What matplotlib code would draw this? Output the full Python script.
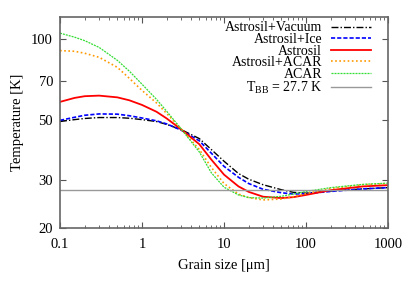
import matplotlib
matplotlib.use('Agg')
import matplotlib.pyplot as plt

plt.rcParams['font.family'] = ['Liberation Serif', 'DejaVu Serif']
plt.rcParams['mathtext.fontset'] = 'custom'
plt.rcParams['mathtext.rm'] = 'Liberation Serif'

# grain size [um]
size = [0.1, 0.15, 0.2, 0.3, 0.5, 0.7, 1, 1.5, 2, 3, 5, 7, 10, 15, 20, 30, 50, 70, 100, 200, 500, 1000]

# temperatures [K]
t_vacuum = [49.5, 50.3, 50.8, 51.2, 51.2, 50.9, 50.3, 49.5, 48.3, 46.2, 42.8, 39.0, 35.3, 31.8, 30.3, 28.9,
            27.7, 27.1, 26.9, 27.4, 27.9, 28.2]
t_ice = [50.0, 51.3, 52.2, 52.8, 52.7, 52.0, 51.0, 49.8, 48.5, 46.0, 42.0, 37.8, 33.8, 30.8, 29.2, 27.8,
         27.0, 26.7, 26.8, 27.3, 27.9, 28.2]
t_astrosil = [58.5, 60.5, 61.4, 61.7, 60.8, 59.3, 57.0, 53.8, 50.8, 46.3, 40.8, 35.8, 31.5, 28.5, 27.2, 26.1,
              25.8, 26.0, 26.5, 27.6, 28.5, 28.8]
t_astrosil_acar = [90.5, 90.0, 88.5, 85.5, 78.5, 71.5, 64.5, 58.0, 53.0, 46.5, 39.0, 33.5, 29.2, 26.7, 25.9,
                   25.4, 25.6, 26.1, 26.8, 28.0, 28.9, 29.2]
t_acar = [105, 101.5, 98.5, 93.0, 83.3, 76.0, 68.0, 59.8, 54.0, 46.5, 38.2, 32.0, 28.3, 26.5, 25.9, 25.8,
          26.2, 26.7, 27.3, 28.2, 29.0, 29.3]
t_bb = 27.7

fig = plt.figure(figsize=(4.15, 2.91), dpi=100)
ax = fig.add_axes([0.1446, 0.2165, 0.7904, 0.7235])

ax.plot(size, t_vacuum, color='black', ls=(0, (5, 1.5, 1, 1.5)), lw=1.0, label='Astrosil+Vacuum')
ax.plot(size, t_ice, color='blue', ls=(0, (2.5, 1.2)), lw=1.2, label='Astrosil+Ice')
ax.plot(size, t_astrosil, color='red', ls='-', lw=1.3, label='Astrosil')
ax.plot(size, t_astrosil_acar, color='#ff9900', ls=(0, (1, 1.5)), lw=1.2, label='Astrosil+ACAR')
ax.plot(size, t_acar, color='#33dd33', ls=(0, (1.6, 0.8)), lw=0.9, label='ACAR')
ax.axhline(t_bb, color='#999999', lw=1.0, label=r'T$_{\rm BB}$ = 27.7 K')

ax.set_xscale('log')
ax.set_yscale('log')
ax.set_xlim(0.1, 1000)
ax.set_ylim(20, 120)
ax.set_xticks([0.1, 1, 10, 100, 1000])
ax.set_xticklabels(['0.1', '1', '10', '100', '1000'])
ax.set_yticks([20, 30, 50, 70, 100])
ax.set_yticklabels(['20', '30', '50', '70', '100'])
ax.yaxis.set_minor_locator(matplotlib.ticker.NullLocator())
ax.tick_params(which='both', direction='in', top=True, right=True, labelsize=10.5, color='#555555')
ax.tick_params(axis='x', pad=7)
ax.tick_params(axis='y', pad=5)
ax.tick_params(which='major', length=4)
ax.tick_params(which='minor', length=2)
for s in ax.spines.values():
    s.set_color('#666666')
    s.set_linewidth(1.2)

ax.set_xlabel('Grain size [\u03bcm]', fontsize=10.5, labelpad=6)
ax.set_ylabel('Temperature [K]', fontsize=10.5, labelpad=5)

ax.legend(loc='upper right', frameon=False, markerfirst=False, fontsize=10, labelspacing=-0.1,
          handlelength=2.9, handletextpad=0.65, borderaxespad=1.2, borderpad=0.0,
          bbox_to_anchor=(1.0, 1.06))

plt.savefig('out.png', dpi=100)
